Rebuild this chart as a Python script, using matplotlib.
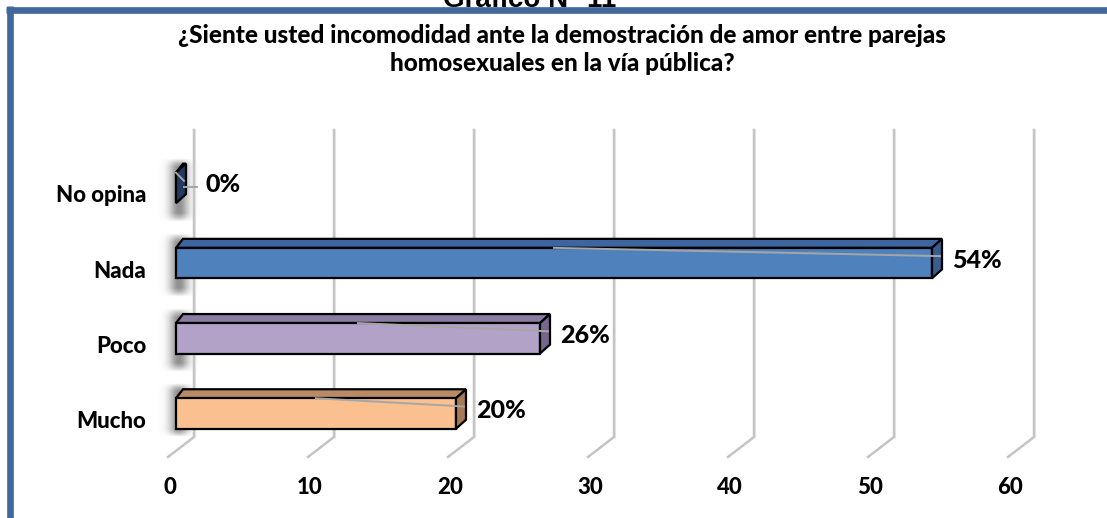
import numpy as np
import matplotlib
matplotlib.use("Agg")
import matplotlib.pyplot as plt
from matplotlib.patches import Polygon

# ---------------- data ----------------
categories = ["Mucho", "Poco", "Nada", "No opina"]
values = [20, 26, 54, 0]
value_labels = ["20%", "26%", "54%", "0%"]
xticks = [0, 10, 20, 30, 40, 50, 60]
title = "¿Siente usted incomodidad ante la demostración de amor entre parejas\nhomosexuales en la vía pública?"
header = "Gráfico N° 11"

front_colors = ["#FAC090", "#B3A2C7", "#4F81BD", "#1F3864"]
top_colors = ["#B88A66", "#8A7BA0", "#3D66A0", "#1A2F55"]
side_colors = ["#A57A58", "#74668C", "#385C8C", "#203A60"]

# ---------------- geometry (pixel based layout) ----------------
W, H = 1107, 518
PX_PER_UNIT = 14.0      # horizontal scale
X0_PX = 176.0           # pixel of value 0 (front face)
ROW_PX = 75.2           # vertical spacing between categories
Y0_PX = 413.5           # pixel centre of first category

fig = plt.figure(figsize=(W / 100, H / 100), dpi=100)
ax = fig.add_axes([0, 0, 1, 1])
ax.set_xlim(-X0_PX / PX_PER_UNIT, (W - X0_PX) / PX_PER_UNIT)
ax.set_ylim((Y0_PX - H) / ROW_PX, Y0_PX / ROW_PX)
ax.axis("off")

def dx(px):
    return px / PX_PER_UNIT

def dy(px):   # positive = upwards on screen
    return px / ROW_PX

def ypix(py):  # pixel row -> data y
    return (Y0_PX - py) / ROW_PX

DX, DY = dx(10), dy(9)
BAR_H = dy(30.5)

FONT = ["Lato", "DejaVu Sans"]
WEIGHT = "black"

# ---------------- frame ----------------
frame_col = "#41689C"
fig.add_artist(plt.Line2D([9.5 / W, 9.5 / W], [0, 1 - 6 / H], color=frame_col, lw=4.8,
                          transform=fig.transFigure, solid_capstyle="butt"))
fig.add_artist(plt.Line2D([6 / W, 1], [1 - 9.5 / H, 1 - 9.5 / H], color=frame_col, lw=4.8,
                          transform=fig.transFigure, solid_capstyle="butt"))
fig.text(530 / W, 1 - 7 / H, header, ha="center", va="baseline", fontsize=20,
         fontweight="bold", family=["Liberation Sans", "DejaVu Sans"], zorder=0)

# ---------------- title ----------------
fig.text(562 / W, 1 - 43 / H, title.split("\n")[0], ha="center", va="baseline",
         fontsize=17.5, fontweight=WEIGHT, family=FONT)
fig.text(562 / W, 1 - 71 / H, title.split("\n")[1], ha="center", va="baseline",
         fontsize=17.5, fontweight=WEIGHT, family=FONT)

# ---------------- back wall shadow ----------------
n = len(categories)
grad_w = 80
xs = np.linspace(-1, 1, grad_w)
for i in range(n):
    top = ypix(Y0_PX - ROW_PX * i - 30)
    bot = ypix(Y0_PX - ROW_PX * i + 34) if i > 0 else ypix(437)
    ys = np.linspace(-1, 1, 80)
    XX, YY = np.meshgrid(xs, ys)
    a = np.exp(-(XX / 0.42) ** 2) * np.clip(1.6 - np.abs(YY) ** 3 * 1.6, 0, 1) * 0.75
    img = np.zeros((80, grad_w, 4))
    img[..., :3] = 0.42
    img[..., 3] = np.clip(a, 0, 1)
    ax.imshow(img, extent=[dx(-20), dx(26), bot, top], aspect="auto",
              origin="upper", zorder=0.5, interpolation="bilinear")

# ---------------- grid lines (back wall + floor) ----------------
grid_top, grid_back, grid_front = ypix(130), ypix(437), ypix(457)
for t in xticks:
    xb = t + dx(18)
    xf = t - dx(8)
    ax.plot([xb, xb, xf], [grid_top, grid_back, grid_front], color="#C4C4C4",
            lw=1.8, zorder=1, solid_joinstyle="miter")
    ax.plot([xb + dx(1.2), xb + dx(1.2)], [grid_top, grid_back], color="#E0E0E0",
            lw=0.8, zorder=1)
    ax.text(t - dx(6), ypix(488), str(t), ha="center", va="center", fontsize=16,
            fontweight=WEIGHT, family=FONT)

# ---------------- bars ----------------
ypos = np.arange(n)
ax.barh(ypos, values, height=BAR_H, left=0, color=front_colors, edgecolor="black",
        linewidth=1.6, zorder=3)
for i, v in enumerate(values):
    yb, yt = i - BAR_H / 2, i + BAR_H / 2
    top = Polygon([(0, yt), (v, yt), (v + DX, yt + DY), (0 + DX * 0.7, yt + DY)],
                  closed=True, facecolor=top_colors[i], edgecolor="black", lw=1.6, zorder=2.9)
    side = Polygon([(v, yb), (v, yt), (v + DX, yt + DY), (v + DX, yb + DY)],
                   closed=True, facecolor=side_colors[i], edgecolor="black", lw=1.6, zorder=3.1)
    ax.add_patch(top)
    ax.add_patch(side)
    # leader line (Excel artefact)
    ax.plot([v / 2, v + DX * 0.8], [yt, i + dy(7)], color="#A6A6A6", lw=1.4, zorder=3.3)
    if v == 0:
        ax.plot([v + DX * 0.8, v + dx(21)], [i + dy(1), i + dy(1)], color="#A6A6A6", lw=1.4,
                zorder=3.3)
    ax.text(v + dx(20 if v > 0 else 30), i + dy(3), value_labels[i], ha="left", va="center",
            fontsize=18, fontweight=WEIGHT, family=FONT, zorder=4)
    ax.text(dx(146 - X0_PX), i - dy(8), categories[i], ha="right", va="center",
            fontsize=16, fontweight=WEIGHT, family=FONT, zorder=4)

fig.savefig("out.png", dpi=100)
